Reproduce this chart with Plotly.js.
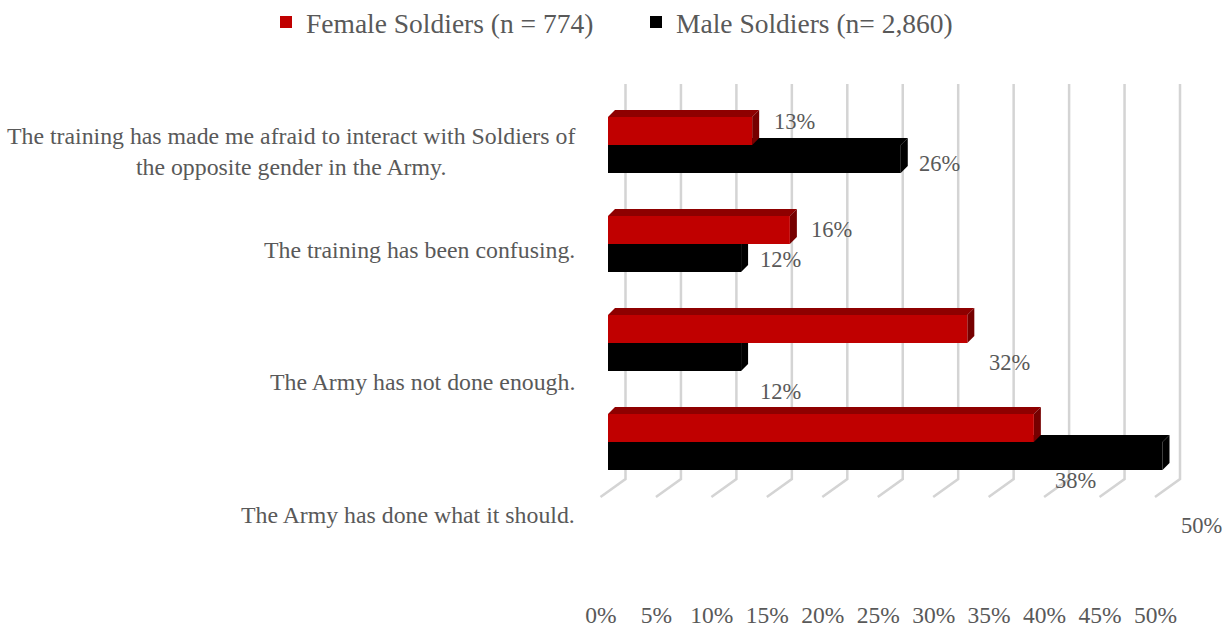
<!DOCTYPE html>
<html>
<head>
<meta charset="utf-8">
<script src="https://cdn.plot.ly/plotly-3.0.1.min.js"></script>
<style>
html,body{margin:0;padding:0;background:#fff;}
#chart{width:1231px;height:627px;}
</style>
</head>
<body>
<div id="chart"></div>
<script>
// ---- data ----
const categories = [
  "The training has made me afraid to interact with Soldiers of<br>the opposite gender in the Army.",
  "The training has been confusing.",
  "The Army has not done enough.",
  "The Army has done what it should."
];
const seriesNames = ["Female Soldiers (n = 774)", "Male Soldiers (n= 2,860)"];
const female = [0.13, 0.164, 0.324, 0.384];
const male = [0.264, 0.12, 0.12, 0.50];
const xTicks = [0, 0.05, 0.10, 0.15, 0.20, 0.25, 0.30, 0.35, 0.40, 0.45, 0.50];

// ---- label offsets (style, px) ----
const catLabelShift = [-6, -6, -39, -73];
const femaleLabelShift = [9, 0, -34, -53];
const maleLabelShift = [-4, -1, -34, -69];

// ---- styling ----
const FONT = "Liberation Serif, Times New Roman, serif";
const TEXT = "#595959";
const RED = "#C00000", RED_TOP = "#8E0000", RED_SIDE = "#760000";
const BLK = "#000000";
const BAR_W = 0.283;          // bar thickness in category units
const DX = 7 / 1109, DY = 7 / 99;   // 3D depth (x in value units, y in category units)
const G_BACK = 17.5 / 1109, G_FRONT = -7.5 / 1109;
const Y_GRID_TOP = (84 - 145) / 99, Y_FLOOR_BACK = (479 - 145) / 99, Y_FLOOR_FRONT = (497 - 145) / 99;

const pos = categories.map((_, i) => i);

const traces = [
  {type: "bar", orientation: "h", name: seriesNames[0], x: female, y: pos,
   marker: {color: RED}, hoverinfo: "x+name"},
  {type: "bar", orientation: "h", name: seriesNames[1], x: male, y: pos,
   marker: {color: BLK}, hoverinfo: "x+name"}
];

const shapes = [];
// back-wall gridlines + floor lines
xTicks.forEach(t => {
  shapes.push({type: "path", xref: "x", yref: "y", layer: "below",
    path: `M ${t + G_BACK},${Y_GRID_TOP} L ${t + G_BACK},${Y_FLOOR_BACK} L ${t + G_FRONT},${Y_FLOOR_FRONT}`,
    line: {color: "#D4D4D4", width: 2.5}});
});

function faces(v, yTop, yBot, topCol, sideCol) {
  shapes.push({type: "path", xref: "x", yref: "y", layer: "below",
    path: `M 0,${yTop} L ${v},${yTop} L ${v + DX},${yTop - DY} L ${DX},${yTop - DY} Z`,
    fillcolor: topCol, line: {width: 0}});
  shapes.push({type: "path", xref: "x", yref: "y", layer: "below",
    path: `M ${v},${yTop} L ${v + DX},${yTop - DY} L ${v + DX},${yBot - DY} L ${v},${yBot} Z`,
    fillcolor: sideCol, line: {width: 0}});
}
pos.forEach(i => faces(male[i], i, i + BAR_W, BLK, BLK));
pos.forEach(i => faces(female[i], i - BAR_W, i, RED_TOP, RED_SIDE));

const annotations = [];
pos.forEach(i => {
  annotations.push({xref: "paper", yref: "y", x: (577 - 595) / 590, y: i, xanchor: "right", yanchor: "middle",
    text: categories[i], align: "center", showarrow: false, yshift: catLabelShift[i],
    font: {family: FONT, size: 23.8, color: TEXT}});
  annotations.push({xref: "x", yref: "y", x: female[i], y: i - BAR_W / 2, xanchor: "center", yanchor: "middle",
    text: Math.round(female[i] * 100) + "%", showarrow: false, xshift: 42, yshift: femaleLabelShift[i],
    font: {family: FONT, size: 22.5, color: TEXT}});
  annotations.push({xref: "x", yref: "y", x: male[i], y: i + BAR_W / 2, xanchor: "center", yanchor: "middle",
    text: Math.round(male[i] * 100) + "%", showarrow: false, xshift: 39, yshift: maleLabelShift[i],
    font: {family: FONT, size: 22.5, color: TEXT}});
});

const layout = {
  width: 1231, height: 627,
  margin: {l: 595, r: 46, t: 60, b: 107, autoexpand: false},
  paper_bgcolor: "#fff", plot_bgcolor: "rgba(0,0,0,0)",
  barmode: "group", bargap: 1 - 2 * BAR_W, bargroupgap: 0,
  showlegend: true,
  legend: {orientation: "h", xref: "paper", yref: "paper", x: (266 - 595) / 590, y: 1 + (60 - 22) / 460,
    xanchor: "left", yanchor: "middle", entrywidth: 325, entrywidthmode: "pixels",
    font: {family: FONT, size: 27.5, color: TEXT}, traceorder: "normal"},
  xaxis: {range: [-13 / 1109, 577 / 1109], tickvals: xTicks, tickformat: ".0%",
    showgrid: false, zeroline: false, showline: false, ticks: "",
    ticklabelstandoff: 78, ticklabelshift: -7, automargin: false,
    tickfont: {family: FONT, size: 23.5, color: TEXT}, fixedrange: true},
  yaxis: {range: [(520 - 145) / 99, (60 - 145) / 99], showgrid: false, zeroline: false, automargin: false,
    showline: false, showticklabels: false, ticks: "", fixedrange: true},
  shapes: shapes,
  annotations: annotations
};

Plotly.newPlot("chart", traces, layout, {displayModeBar: false, staticPlot: true});
</script>
</body>
</html>
